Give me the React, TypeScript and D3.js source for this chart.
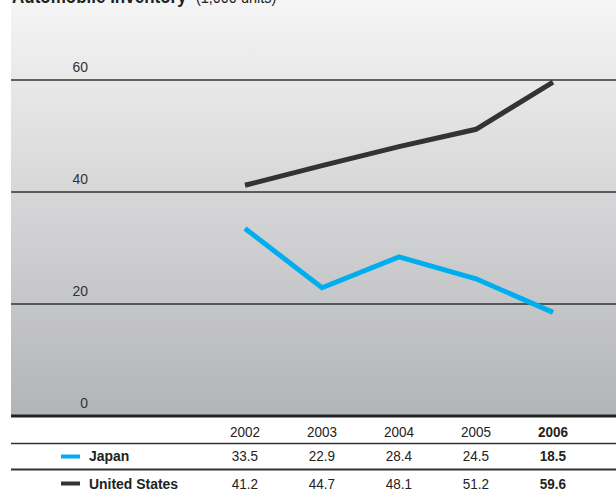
import React from "react";
import * as d3 from "d3";

const years = ["2002", "2003", "2004", "2005", "2006"];
const japan = [33.5, 22.9, 28.4, 24.5, 18.5];
const unitedStates = [41.2, 44.7, 48.1, 51.2, 59.6];
const yTicks = [0, 20, 40, 60];
const seriesNames = ["Japan", "United States"];
const seriesColors = ["#00aeef", "#333333"];

const W = 616;
const H = 491;
const FONT = "'Liberation Sans', Arial, sans-serif";
const SX = 0.9;

function T(props: {
  x: number;
  y: number;
  size: number;
  anchor?: "start" | "middle" | "end";
  bold?: boolean;
  fill?: string;
  children: React.ReactNode;
}) {
  return (
    <text
      transform={`translate(${props.x},${props.y}) scale(${SX},1)`}
      fontSize={props.size}
      textAnchor={props.anchor || "start"}
      fontWeight={props.bold ? "bold" : "normal"}
      fill={props.fill || "#222"}
    >
      {props.children}
    </text>
  );
}

export default function App() {
  const x = d3.scalePoint<string>().domain(years).range([245, 553]);
  const y = d3.scaleLinear().domain([0, 60]).range([416, 80]);
  const line = d3
    .line<number>()
    .x((_, i) => x(years[i]) as number)
    .y((d) => y(d));
  const series = [japan, unitedStates];
  const rowY = [461, 489];
  const swatchY = [456.5, 483.5];

  return (
    <svg
      width={W}
      height={H}
      style={{ position: "absolute", left: 0, top: 0, background: "#fff" }}
      fontFamily={FONT}
    >
      <defs>
        <linearGradient id="bg" x1="0" y1="0" x2="0" y2="1">
          <stop offset="0" stopColor="#f5f5f5" />
          <stop offset="1" stopColor="#b3b4b7" />
        </linearGradient>
      </defs>
      <rect x={11} y={0} width={W - 11} height={y(0)} fill="url(#bg)" />
      <text transform={`translate(12,2.5) scale(0.85,1)`} fontSize={20} fill="#222">
        <tspan fontWeight="bold">Automobile Inventory</tspan>
        <tspan dx={11} fontSize={17}>(1,000 units)</tspan>
      </text>
      {yTicks.map((t) => (
        <g key={t}>
          {t !== 0 && (
            <line x1={11} x2={W} y1={y(t)} y2={y(t)} stroke="#333" strokeWidth={1.3} />
          )}
          <T x={88} y={y(t) - 8} size={15.5} anchor="end" fill="#333">
            {t}
          </T>
        </g>
      ))}
      {series.map((s, i) => (
        <path
          key={i}
          d={line(s) || ""}
          fill="none"
          stroke={seriesColors[i]}
          strokeWidth={5}
          strokeLinejoin="miter"
        />
      ))}
      <line x1={11} x2={W} y1={y(0)} y2={y(0)} stroke="#222" strokeWidth={3} />
      {years.map((yr, i) => (
        <T key={yr} x={x(yr) as number} y={436.5} size={15} anchor="middle" bold={i === years.length - 1}>
          {yr}
        </T>
      ))}
      <line x1={11} x2={W} y1={443.5} y2={443.5} stroke="#333" strokeWidth={1.3} />
      <line x1={11} x2={W} y1={469.5} y2={469.5} stroke="#333" strokeWidth={2} />
      {series.map((s, si) => (
        <g key={si}>
          <rect x={61} y={swatchY[si] - 2} width={19} height={4} fill={seriesColors[si]} />
          <T x={89} y={rowY[si]} size={15.5} bold>
            {seriesNames[si]}
          </T>
          {s.map((v, i) => (
            <T
              key={i}
              x={x(years[i]) as number}
              y={rowY[si]}
              size={15}
              anchor="middle"
              bold={i === years.length - 1}
            >
              {v.toFixed(1)}
            </T>
          ))}
        </g>
      ))}
    </svg>
  );
}
